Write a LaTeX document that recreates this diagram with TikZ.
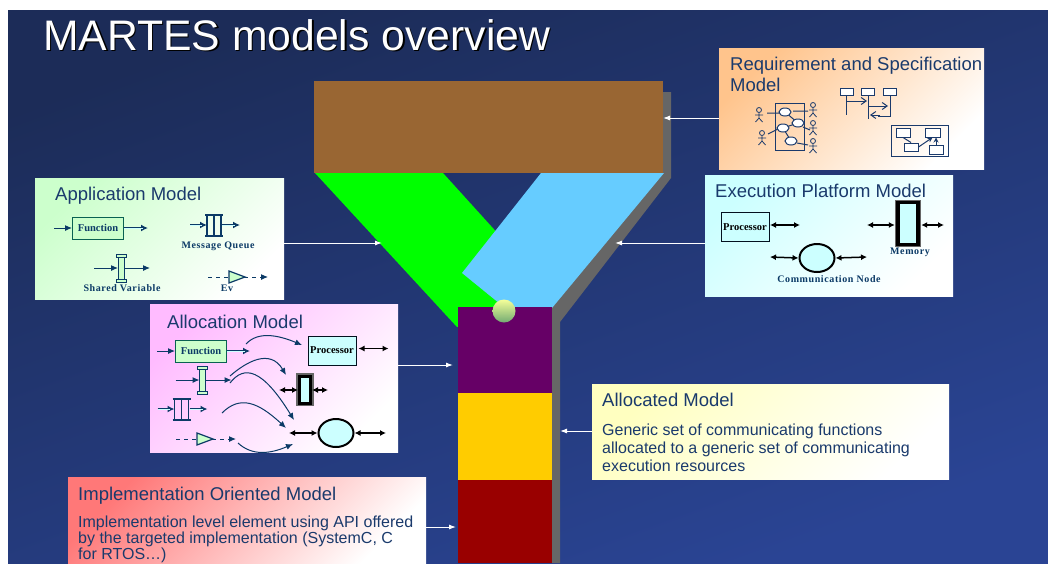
\documentclass[tikz,border=0pt]{standalone}
\usepackage{fontspec}
\usepackage{tikz}
\usetikzlibrary{arrows.meta,shapes.geometric}
\setmainfont{Liberation Sans}
\newfontfamily\iconfont{Liberation Serif}
\newfontfamily\iconwide[LetterSpace=6]{Liberation Serif}
\definecolor{bgdark}{HTML}{1C2C58}
\definecolor{bglight}{HTML}{2A4494}
\definecolor{inktext}{HTML}{1A3A6C}
\definecolor{iconink}{HTML}{0B3A66}
\definecolor{palegreen}{HTML}{CCFFCC}
\definecolor{palecyan}{HTML}{CCFFFF}
\definecolor{palepink}{HTML}{FFBBFF}
\definecolor{palepeach}{HTML}{FFC48C}
\definecolor{paleyellow}{HTML}{FFFFC0}
\definecolor{palered}{HTML}{FF7878}
\definecolor{funnelgray}{HTML}{666666}
\definecolor{funnelbrown}{HTML}{996633}
\definecolor{funnelblue}{HTML}{66CCFF}
\definecolor{stageplum}{HTML}{660066}
\definecolor{stageyellow}{HTML}{FFCC00}
\definecolor{stagered}{HTML}{990000}
\tikzset{
	modelbox/.style={anchor=north west, inner sep=0pt, left color=#1, right color=white, shading angle=45},
	stagebox/.style={inner sep=0pt, minimum width=94},
	boxtitle/.style={anchor=base west, inner sep=0pt, text=inktext, font=\fontsize{18.5}{21}\selectfont},
	boxbody/.style={anchor=north west, inner sep=0pt, align=left, text=inktext, font=\fontsize{16}{16}\selectfont},
	feed/.style={draw=white, line width=1, -{Latex[length=7pt,width=5pt]}},
	funcbox/.style={draw=iconink!80!green, line width=1, fill=palegreen, inner sep=0pt, font=\iconfont\bfseries\fontsize{10.5}{11}\selectfont, text=iconink},
	procbox/.style={draw=black!70!iconink, line width=1, fill=palecyan, inner sep=0pt, font=\iconfont\bfseries\fontsize{10.5}{11}\selectfont, minimum width=48, minimum height=29},
	iconlabel/.style={inner sep=0pt, text=iconink, font=\iconwide\bfseries\fontsize{10}{11}\selectfont},
	flow/.style={draw=iconink, line width=1, -{Latex[length=7pt,width=6pt]}},
	dblflow/.style={draw=iconink, line width=2.8, -{Latex[length=7pt,width=7pt]}, postaction={draw=palecyan, line width=1, -, shorten >=5pt}},
	dashflow/.style={draw=iconink, line width=1, dash pattern=on 4pt off 4pt, -{Latex[length=7pt,width=6pt]}},
	busline/.style={draw=black, line width=1.5, {Latex[length=6pt,width=6pt]}-{Latex[length=6pt,width=6pt]}},
	spec/.style={draw=inktext, line width=1},
	specbox/.style={draw=inktext, line width=1, fill=white, inner sep=0pt},
	usecase/.style={spec, fill=white, ellipse, inner sep=0pt, minimum width=12, minimum height=8},
	netnode/.style={draw=black, line width=2, fill=palecyan, ellipse, inner sep=0pt, minimum width=35, minimum height=28},
}
\begin{document}
\begin{tikzpicture}[x=1pt,y=-1pt]
	\useasboundingbox (0,0) rectangle (1048,563);
	\fill[white] (0,0) rectangle (1048,563);
	\shade[left color=bgdark, right color=bglight, shading angle=20] (8,10) rectangle (1048,563);

	\node[anchor=base west, inner sep=0pt, text=black, font=\fontsize{42.7}{48}\selectfont] (titleshadow) at (44.5,51.5) {MARTES models overview};
	\node[anchor=base west, inner sep=0pt, text=white, font=\fontsize{42.7}{48}\selectfont] (title) at (43,50) {MARTES models overview};

	\fill[funnelgray] (663,92) -- (671,92) -- (671,178) -- (560,322) -- (560,563) -- (552,563) -- (552,307) -- (663,173) -- cycle;
	\fill[green] (315,173) -- (443,173) -- (520,258) -- (520,320) -- (457,327) -- cycle;
	\fill[funnelblue] (541,173) -- (664,173) -- (552,308) -- (505,308) -- (462,273) -- cycle;
	\node[inner sep=0pt, minimum width=349, minimum height=92, fill=funnelbrown] (brown) at (488.5,127) {};
	\node[stagebox, minimum height=86, fill=stageplum] (purple) at (505,350) {};
	\node[stagebox, minimum height=87, fill=stageyellow] (yellow) at (505,436.5) {};
	\node[stagebox, minimum height=83, fill=stagered] (red) at (505,521.5) {};
	\node[circle, inner sep=0pt, minimum size=23, top color=green!10!yellow!40!white, bottom color=green!40!black!55!white] (ball) at (504,311) {};

	\node[modelbox=palegreen, minimum width=249, minimum height=121] (appbox) at (35,178) {};
	\node[modelbox=palepink, minimum width=248, minimum height=148] (allocbox) at (150,304) {};
	\node[modelbox=palepeach, minimum width=265, minimum height=121] (reqbox) at (719,48) {};
	\node[modelbox=palecyan, minimum width=248, minimum height=121] (execbox) at (705,175) {};
	\node[modelbox=paleyellow, minimum width=357, minimum height=95] (allocatedbox) at (592,384) {};
	\node[modelbox=palered, minimum width=358, minimum height=86] (implbox) at (68,477) {};

	\coordinate (reqhook) at (719,118);
	\coordinate (brownhook) at (663,118);
	\coordinate (apphook) at (284,243);
	\coordinate (greenhook) at (382,243);
	\coordinate (exechook) at (705,243);
	\coordinate (bluehook) at (615,243);
	\coordinate (allochook) at (398,365);
	\coordinate (purplehook) at (453,365);
	\coordinate (allocatedhook) at (592,431);
	\coordinate (grayhook) at (560,431);
	\coordinate (implhook) at (426,527);
	\coordinate (redhook) at (456,527);
	\foreach \from/\to in {reqhook/brownhook,apphook/greenhook,exechook/bluehook,allochook/purplehook,allocatedhook/grayhook,implhook/redhook}
	\draw[feed] (\from) -- (\to);

	% text of the boxes
	\node[boxtitle] (apptitle) at (55,200) {Application Model};
	\node[boxtitle] (alloctitle) at (167,328) {Allocation Model};
	\node[boxtitle, align=left, anchor=north west] (reqtitle) at (730,57) {Requirement and Specification\\Model};
	\node[boxtitle] (exectitle) at (715,197) {Execution Platform Model};
	\node[boxtitle] (allocatedtitle) at (602,406) {Allocated Model};
	\node[boxbody, font=\fontsize{16}{18}\selectfont] (allocatedtext) at (602,424) {Generic set of communicating functions\\allocated to a generic set of communicating\\execution resources};
	\node[boxtitle] (impltitle) at (78,500) {Implementation Oriented Model};
	\node[boxbody] (impltext) at (78,516) {Implementation level element using API offered\\by the targeted implementation (SystemC, C\\for RTOS\ldots)};

	% application icons
	\node[funcbox, minimum width=51, minimum height=22] (appfunc) at (98,228) {Function};
	\draw[flow] (54,228) -- (appfunc.west);
	\draw[dblflow] (appfunc.east) -- ++(24,0);
	\node[iconlabel] (queuelabel) at (218,246) {Message Queue};
	\node[iconlabel] (sharedlabel) at (122,288) {Shared Variable};
	\node[iconlabel] (evlabel) at (227,288) {Ev};

	% queues and shared variables of both boxes
	\foreach \x/\y in {214/225,181.5/409} {
		\draw[dblflow] (\x-24,\y) -- (\x-7,\y);
		\draw[dblflow] (\x+8,\y) -- (\x+26,\y);
		\draw[draw=iconink, line width=1.5] (\x-9,\y-10) -- (\x+9,\y-10) (\x-9,\y+11) -- (\x+9,\y+11);
		\foreach \d in {-7,0,7}
		\draw[draw=iconink, line width=1.5] (\x+\d,\y-10) -- (\x+\d,\y+11);
	}
	\foreach \x/\y in {121/268,202.5/380} {
		\draw[flow] (\x-27,\y) -- (\x-3,\y);
		\draw[flow] (\x+3,\y) -- (\x+29,\y);
		\draw[draw=iconink, fill=palegreen, line width=0.8] (\x-3,\y-12) rectangle (\x+3,\y+12);
		\draw[draw=iconink, fill=palegreen, line width=0.8] (\x-5,\y-14) rectangle (\x+5,\y-11);
		\draw[draw=iconink, fill=palegreen, line width=0.8] (\x-5,\y+11) rectangle (\x+5,\y+14);
	}
	\foreach \x/\y in {229/277,197/439} {
		\draw[draw=iconink, line width=1, dash pattern=on 4pt off 4pt] (\x-21,\y) -- (\x,\y);
		\draw[dashflow] (\x+15,\y) -- (\x+39,\y);
		\draw[draw=iconink, fill=palegreen, line width=1.2] (\x,\y-6) -- (\x+16,\y) -- (\x,\y+6) -- cycle;
	}

	% allocation icons
	\node[funcbox, minimum width=51, minimum height=22] (allocfunc) at (201,351) {Function};
	\draw[flow] (157,351) -- (allocfunc.west);
	\draw[dblflow] (allocfunc.east) -- ++(23,0);
	\node[procbox] (allocproc) at (332,350.5) {Processor};
	\draw[busline] (allocproc.east) ++(2,-2) -- ++(30,0);
	\draw[flow] (246,344) .. controls (258,331) and (278,335) .. (302,345);
	\draw[flow] (230,376) .. controls (246,362) and (270,348) .. (286,375);
	\draw[flow] (230,383) .. controls (244,365) and (262,368) .. (294,420);
	\draw[flow] (222,413) .. controls (240,395) and (258,402) .. (286,428);
	\draw[flow] (238,443) .. controls (252,456) and (270,454) .. (293,444);
	\node[inner sep=0pt, minimum width=18, minimum height=33, fill=funnelgray] (allocmemout) at (305,389.5) {};
	\node[inner sep=0pt, minimum width=11, minimum height=27, draw=black, line width=3, fill=palecyan] (allocmem) at (305,389.5) {};
	\draw[busline] (279,390) -- (298,390);
	\draw[busline] (312,390) -- (328,390);
	\node[netnode] (allocnet) at (336,433) {};
	\draw[busline] (289,433) -- (allocnet.west);
	\draw[busline] (allocnet.east) -- (386,433);

	% execution platform icons
	\node[procbox] (execproc) at (745,227) {Processor};
	\draw[busline] (770,225) -- (800,225);
	\node[netnode] (execnet) at (817,258) {};
	\draw[busline] (770,257) -- (execnet.west);
	\draw[busline] (execnet.east) -- (867,257);
	\node[iconlabel] (netlabel) at (829,279) {Communication Node};
	\node[inner sep=0pt, minimum width=26, minimum height=47, fill=funnelgray] (execmemout) at (908,223.5) {};
	\node[inner sep=0pt, minimum width=20, minimum height=42, draw=black, line width=3.5, fill=palecyan] (execmem) at (908,223.5) {};
	\draw[busline] (867,225) -- (execmemout.west |- 0,225);
	\draw[busline] (execmemout.east |- 0,225) -- (944,225);
	\node[iconlabel] (memlabel) at (910,252) {Memory};

	% use cases
	\draw[spec] (775,103) rectangle (804,150);
	\draw[spec] (785,112) -- (798,123) -- (783,128) -- (791,141);
	\draw[spec] (767,113) -- (780,113) (793,111) -- (808,111) (803,127) -- (810,130) (768,134) -- (778,129) (797,143) -- (808,145);
	\node[usecase] (caseone) at (785,112) {};
	\node[usecase] (casetwo) at (798,123) {};
	\node[usecase] (casethree) at (783,128) {};
	\node[usecase] (casefour) at (791,141) {};
	\foreach \x/\y in {759/115,813/110,813/128,762/138,813/146} {
		\draw[spec, line width=0.8] (\x,\y-5) circle (2.5);
		\draw[spec, line width=0.8] (\x,\y-2.5) -- (\x,\y+3) (\x-4,\y) -- (\x+4,\y) (\x-3.5,\y+7) -- (\x,\y+3) -- (\x+3.5,\y+7);
	}

	% sequence chart
	\node[specbox, minimum width=13, minimum height=7] (seqa) at (846.5,92) {};
	\node[specbox, minimum width=13, minimum height=7] (seqb) at (868,92) {};
	\node[specbox, minimum width=13, minimum height=7] (seqc) at (890,92) {};
	\draw[spec] (seqa.south) -- ++(0,19);
	\draw[spec] (seqb.south) -- ++(0,23);
	\draw[spec] (seqc.south) -- ++(0,20) -- ++(-12,0);
	\draw[spec, -{Straight Barb[length=5pt,width=7pt]}] (847,101) -- (867,101);
	\draw[spec, -{Straight Barb[length=5pt,width=7pt]}] (869,106) -- (888,106);
	\draw[spec, -{Straight Barb[length=5pt,width=7pt]}] (880,115) -- (870,115);

	% class chart
	\draw[spec] (891,125) rectangle (948,156);
	\node[specbox, minimum width=14, minimum height=9] (classa) at (903,132.5) {};
	\node[specbox, minimum width=15, minimum height=9] (classb) at (932.5,132.5) {};
	\node[specbox, minimum width=14, minimum height=8] (classc) at (911,147) {};
	\node[specbox, minimum width=14, minimum height=9] (classd) at (936,149.5) {};
	\draw[spec] (classa.south) -- (classc.north);
	\draw[spec, -{Stealth[length=5pt,width=5pt]}] (classc.east) -- (classb.south);
	\draw[spec, -{Stealth[length=5pt,width=5pt]}] (classd.north) -- ++(0,-7);
\end{tikzpicture}
\end{document}
